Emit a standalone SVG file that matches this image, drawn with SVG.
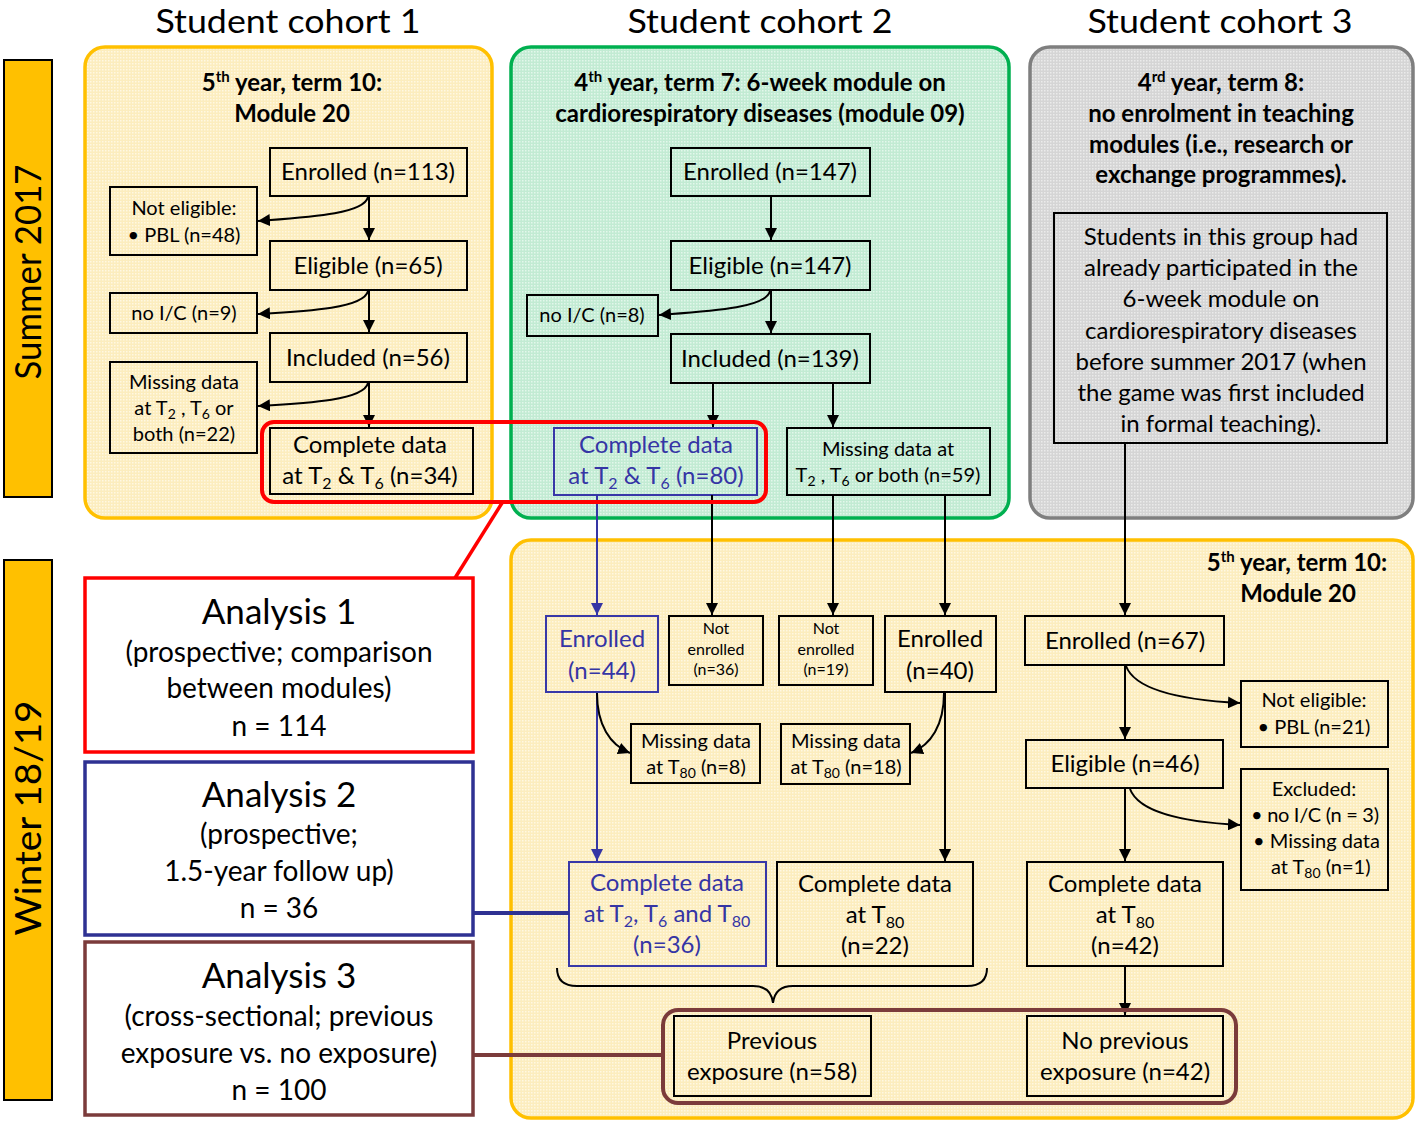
<svg xmlns="http://www.w3.org/2000/svg" width="1418" height="1125" viewBox="0 0 1418 1125">
<defs>
<pattern id="pY" width="3" height="3" patternUnits="userSpaceOnUse"><rect width="3" height="3" fill="#FCEDBE"/><rect width="1.5" height="1.5" fill="#FFF8E2"/></pattern>
<pattern id="pG" width="3" height="3" patternUnits="userSpaceOnUse"><rect width="3" height="3" fill="#C2EBD3"/><rect width="1.5" height="1.5" fill="#E3F7EB"/></pattern>
<pattern id="pK" width="3" height="3" patternUnits="userSpaceOnUse"><rect width="3" height="3" fill="#D5D5D5"/><rect width="1.5" height="1.5" fill="#EBEBEB"/></pattern>
<marker id="ah" viewBox="0 0 10 10" refX="10" refY="5" markerWidth="12" markerHeight="12" markerUnits="userSpaceOnUse" orient="auto"><path d="M0,0 L10,5 L0,10 z" fill="#000"/></marker>
<marker id="ahb" viewBox="0 0 10 10" refX="10" refY="5" markerWidth="12" markerHeight="12" markerUnits="userSpaceOnUse" orient="auto"><path d="M0,0 L10,5 L0,10 z" fill="#3535A5"/></marker>
</defs>
<style>
text{font-family:Lato,"Open Sans","Liberation Sans",sans-serif;fill:#000;text-anchor:middle}
.hd{font-size:32px}
.tt{font-size:24px;font-weight:bold}
.m{font-size:24px}
.s{font-size:20px}
.xs{font-size:16px}
.md{font-size:20px}
.an{font-size:35px}
.as{font-size:28px}
.side{font-size:36px}
.bl{fill:#3535A5}
.bx{fill:none;stroke:#000;stroke-width:2}
.bbx{fill:none;stroke:#3838A8;stroke-width:2}
.ln{fill:none;stroke:#000;stroke-width:2}
.lb{fill:none;stroke:#3535A5;stroke-width:2}
</style>

<g id="headers">
<text class="hd" x="288" y="33" textLength="265" lengthAdjust="spacingAndGlyphs">Student cohort 1</text>
<text class="hd" x="760" y="33" textLength="265" lengthAdjust="spacingAndGlyphs">Student cohort 2</text>
<text class="hd" x="1220" y="33" textLength="265" lengthAdjust="spacingAndGlyphs">Student cohort 3</text>
</g>

<g id="bar-summer">
<rect x="4" y="60" width="48" height="437" fill="#FFC000" stroke="#000" stroke-width="2"/>
<text class="side" transform="translate(41,272) rotate(-90)" textLength="215" lengthAdjust="spacingAndGlyphs">Summer 2017</text>
</g>
<g id="bar-winter">
<rect x="4" y="560" width="48" height="540" fill="#FFC000" stroke="#000" stroke-width="2"/>
<text class="side" transform="translate(41,818) rotate(-90)" textLength="235" lengthAdjust="spacingAndGlyphs">Winter 18/19</text>
</g>

<g id="cohort1-panel">
<rect x="85" y="47" width="407" height="471" rx="20" fill="url(#pY)" stroke="#FFC000" stroke-width="3.5"/>
<text class="tt" x="292" y="91">5<tspan font-size="15" dy="-9">th</tspan><tspan dy="9"> year, term 10:</tspan></text>
<text class="tt" x="292" y="122">Module 20</text>
</g>
<g id="cohort2-panel">
<rect x="511" y="47" width="498" height="471" rx="20" fill="url(#pG)" stroke="#00B050" stroke-width="3.5"/>
<text class="tt" x="760" y="91">4<tspan font-size="15" dy="-9">th</tspan><tspan dy="9"> year, term 7: 6-week module on</tspan></text>
<text class="tt" x="760" y="122">cardiorespiratory diseases (module 09)</text>
</g>
<g id="cohort3-panel">
<rect x="1030" y="47" width="383" height="471" rx="20" fill="url(#pK)" stroke="#7F7F7F" stroke-width="3.5"/>
<text class="tt" x="1221" y="91">4<tspan font-size="15" dy="-9">rd</tspan><tspan dy="9"> year, term 8:</tspan></text>
<text class="tt" x="1221" y="122">no enrolment in teaching</text>
<text class="tt" x="1221" y="153">modules (i.e., research or</text>
<text class="tt" x="1221" y="183">exchange programmes).</text>
</g>
<g id="winter-panel">
<rect x="511" y="540" width="902" height="578" rx="20" fill="url(#pY)" stroke="#FFC000" stroke-width="3.5"/>
<text class="tt" x="1297" y="571">5<tspan font-size="15" dy="-9">th</tspan><tspan dy="9"> year, term 10:</tspan></text>
<text class="tt" x="1298" y="602">Module 20</text>
</g>

<g id="c1-enrolled"><rect class="bx" x="270" y="148" width="197" height="48"/><text class="m" x="368" y="180">Enrolled (n=113)</text></g>
<g id="c1-noteligible"><rect class="bx" x="110" y="187" width="147" height="68"/><text class="s" x="184" y="215">Not eligible:</text><text class="s" x="184" y="242">• PBL (n=48)</text></g>
<g id="c1-eligible"><rect class="bx" x="270" y="241" width="197" height="49"/><text class="m" x="368" y="274">Eligible (n=65)</text></g>
<g id="c1-noic"><rect class="bx" x="110" y="293" width="147" height="40"/><text class="s" x="184" y="320">no I/C (n=9)</text></g>
<g id="c1-included"><rect class="bx" x="270" y="333" width="197" height="49"/><text class="m" x="368" y="366">Included (n=56)</text></g>
<g id="c1-missing"><rect class="bx" x="110" y="362" width="147" height="91"/><text class="s" x="184" y="389">Missing data</text><text class="s" x="184" y="415">at T<tspan font-size="14" dy="4">2</tspan><tspan dy="-4"> , T</tspan><tspan font-size="14" dy="4">6</tspan><tspan dy="-4"> or</tspan></text><text class="s" x="184" y="441">both (n=22)</text></g>
<g id="c1-complete"><rect class="bx" x="270" y="428" width="203" height="66"/><text class="m" x="370" y="453">Complete data</text><text class="m" x="370" y="484">at T<tspan font-size="16" dy="5">2</tspan><tspan dy="-5"> &amp; T</tspan><tspan font-size="16" dy="5">6</tspan><tspan dy="-5"> (n=34)</tspan></text></g>

<g id="c2-enrolled"><rect class="bx" x="671" y="148" width="199" height="48"/><text class="m" x="770" y="180">Enrolled (n=147)</text></g>
<g id="c2-eligible"><rect class="bx" x="671" y="241" width="199" height="49"/><text class="m" x="770" y="274">Eligible (n=147)</text></g>
<g id="c2-noic"><rect class="bx" x="527" y="295" width="131" height="41"/><text class="s" x="592" y="322">no I/C (n=8)</text></g>
<g id="c2-included"><rect class="bx" x="671" y="334" width="199" height="49"/><text class="m" x="770" y="367">Included (n=139)</text></g>
<g id="c2-complete"><rect class="bbx" x="554" y="428" width="203" height="67"/><text class="m bl" x="656" y="453">Complete data</text><text class="m bl" x="656" y="484">at T<tspan font-size="16" dy="5">2</tspan><tspan dy="-5"> &amp; T</tspan><tspan font-size="16" dy="5">6</tspan><tspan dy="-5"> (n=80)</tspan></text></g>
<g id="c2-missing"><rect class="bx" x="787" y="428" width="203" height="67"/><text class="md" x="888" y="456">Missing data at</text><text class="md" x="888" y="482">T<tspan font-size="14" dy="4">2</tspan><tspan dy="-4"> , T</tspan><tspan font-size="14" dy="4">6</tspan><tspan dy="-4"> or both (n=59)</tspan></text></g>

<g id="c3-note"><rect class="bx" x="1054" y="213" width="333" height="230"/>
<text class="m" x="1221" y="245">Students in this group had</text>
<text class="m" x="1221" y="276">already participated in the</text>
<text class="m" x="1221" y="307">6-week module on</text>
<text class="m" x="1221" y="339">cardiorespiratory diseases</text>
<text class="m" x="1221" y="370">before summer 2017 (when</text>
<text class="m" x="1221" y="401">the game was first included</text>
<text class="m" x="1221" y="432">in formal teaching).</text>
</g>

<g id="w-enrolled44"><rect class="bbx" x="546" y="616" width="112" height="76"/><text class="m bl" x="602" y="647">Enrolled</text><text class="m bl" x="602" y="679">(n=44)</text></g>
<g id="w-notenrolled36"><rect class="bx" x="669" y="616" width="94" height="69"/><text class="xs" x="716" y="634">Not</text><text class="xs" x="716" y="655">enrolled</text><text class="xs" x="716" y="675">(n=36)</text></g>
<g id="w-notenrolled19"><rect class="bx" x="779" y="616" width="94" height="69"/><text class="xs" x="826" y="634">Not</text><text class="xs" x="826" y="655">enrolled</text><text class="xs" x="826" y="675">(n=19)</text></g>
<g id="w-enrolled40"><rect class="bx" x="885" y="616" width="111" height="76"/><text class="m" x="940" y="647">Enrolled</text><text class="m" x="940" y="679">(n=40)</text></g>
<g id="w-missing8"><rect class="bx" x="631" y="724" width="129" height="59"/><text class="md" x="696" y="748">Missing data</text><text class="md" x="696" y="774">at T<tspan font-size="14" dy="4">80</tspan><tspan dy="-4"> (n=8)</tspan></text></g>
<g id="w-missing18"><rect class="bx" x="781" y="724" width="129" height="60"/><text class="md" x="846" y="748">Missing data</text><text class="md" x="846" y="774">at T<tspan font-size="14" dy="4">80</tspan><tspan dy="-4"> (n=18)</tspan></text></g>
<g id="w-complete36"><rect class="bbx" x="569" y="862" width="197" height="104"/><text class="m bl" x="667" y="891">Complete data</text><text class="m bl" x="667" y="922">at T<tspan font-size="16" dy="5">2</tspan><tspan dy="-5">, T</tspan><tspan font-size="16" dy="5">6</tspan><tspan dy="-5"> and T</tspan><tspan font-size="16" dy="5">80</tspan></text><text class="m bl" x="667" y="953">(n=36)</text></g>
<g id="w-complete22"><rect class="bx" x="777" y="862" width="196" height="104"/><text class="m" x="875" y="892">Complete data</text><text class="m" x="875" y="923">at T<tspan font-size="16" dy="5">80</tspan></text><text class="m" x="875" y="954">(n=22)</text></g>
<g id="w-previous"><rect class="bx" x="674" y="1016" width="197" height="80"/><text class="m" x="772" y="1049">Previous</text><text class="m" x="772" y="1080">exposure (n=58)</text></g>
<g id="w-enrolled67"><rect class="bx" x="1025" y="616" width="199" height="49"/><text class="m" x="1125" y="649">Enrolled (n=67)</text></g>
<g id="w-noteligible21"><rect class="bx" x="1241" y="681" width="147" height="66"/><text class="s" x="1314" y="707">Not eligible:</text><text class="s" x="1314" y="734">• PBL (n=21)</text></g>
<g id="w-eligible46"><rect class="bx" x="1026" y="740" width="197" height="48"/><text class="m" x="1125" y="772">Eligible (n=46)</text></g>
<g id="w-excluded"><rect class="bx" x="1241" y="769" width="147" height="121"/><text class="s" x="1314" y="796">Excluded:</text><text class="s" x="1251" y="822" style="text-anchor:start" textLength="128">• no I/C (n = 3)</text><text class="s" x="1253" y="848" style="text-anchor:start">• Missing data</text><text class="s" x="1271" y="874" style="text-anchor:start">at T<tspan font-size="14" dy="4">80</tspan><tspan dy="-4"> (n=1)</tspan></text></g>
<g id="w-complete42"><rect class="bx" x="1027" y="862" width="196" height="104"/><text class="m" x="1125" y="892">Complete data</text><text class="m" x="1125" y="923">at T<tspan font-size="16" dy="5">80</tspan></text><text class="m" x="1125" y="954">(n=42)</text></g>
<g id="w-noprevious"><rect class="bx" x="1027" y="1016" width="196" height="80"/><text class="m" x="1125" y="1049">No previous</text><text class="m" x="1125" y="1080">exposure (n=42)</text></g>

<g id="analysis1"><rect x="85" y="578" width="388" height="174" fill="#fff" stroke="#FF0000" stroke-width="3.5"/><text class="an" x="279" y="624">Analysis 1</text><text class="as" x="279" y="662">(prospective; comparison</text><text class="as" x="279" y="698">between modules)</text><text class="as" x="279" y="736">n = 114</text></g>
<g id="analysis2"><rect x="85" y="762" width="388" height="173" fill="#fff" stroke="#2E3192" stroke-width="3.5"/><text class="an" x="279" y="807">Analysis 2</text><text class="as" x="279" y="844">(prospective;</text><text class="as" x="279" y="881">1.5-year follow up)</text><text class="as" x="279" y="918">n = 36</text></g>
<g id="analysis3"><rect x="85" y="942" width="388" height="173" fill="#fff" stroke="#7B3B3B" stroke-width="3.5"/><text class="an" x="279" y="988">Analysis 3</text><text class="as" x="279" y="1026">(cross-sectional; previous</text><text class="as" x="279" y="1063">exposure vs. no exposure)</text><text class="as" x="279" y="1100">n = 100</text></g>

<g id="connectors">
<path class="ln" d="M369,196 V240" marker-end="url(#ah)"/>
<path class="ln" d="M368,197 C364,214 310,217 258,221" marker-end="url(#ah)"/>
<path class="ln" d="M369,290 V332" marker-end="url(#ah)"/>
<path class="ln" d="M368,291 C364,308 310,311 258,314" marker-end="url(#ah)"/>
<path class="ln" d="M369,382 V427" marker-end="url(#ah)"/>
<path class="ln" d="M368,383 C364,400 310,403 258,406" marker-end="url(#ah)"/>

<path class="ln" d="M771,196 V240" marker-end="url(#ah)"/>
<path class="ln" d="M771,290 V333" marker-end="url(#ah)"/>
<path class="ln" d="M770,291 C766,308 712,311 659,315" marker-end="url(#ah)"/>
<path class="ln" d="M713,383 V427" marker-end="url(#ah)"/>
<path class="ln" d="M833,383 V427" marker-end="url(#ah)"/>

<path class="lb" d="M597,495 V615" marker-end="url(#ahb)"/>
<path class="ln" d="M712,495 V615" marker-end="url(#ah)"/>
<path class="ln" d="M833,495 V615" marker-end="url(#ah)"/>
<path class="ln" d="M945,495 V615" marker-end="url(#ah)"/>
<path class="lb" d="M597,692 V861" marker-end="url(#ahb)"/>
<path class="ln" d="M597,693 C597,725 610,745 630,753" marker-end="url(#ah)"/>
<path class="ln" d="M945,692 V861" marker-end="url(#ah)"/>
<path class="ln" d="M944,693 C944,725 931,745 911,753" marker-end="url(#ah)"/>

<path class="ln" d="M1125,443 V615" marker-end="url(#ah)"/>
<path class="ln" d="M1125,665 V739" marker-end="url(#ah)"/>
<path class="ln" d="M1126,666 C1135,690 1180,700 1240,703" marker-end="url(#ah)"/>
<path class="ln" d="M1125,788 V861" marker-end="url(#ah)"/>
<path class="ln" d="M1130,789 C1139,813 1184,822 1240,825" marker-end="url(#ah)"/>
<path class="ln" d="M1125,966 V1015" marker-end="url(#ah)"/>

<path class="ln" d="M557,968 Q557,986 577,986 L753,986 Q771,986 773,1003 Q775,986 793,986 L967,986 Q987,986 987,968"/>

<rect x="262" y="422" width="504" height="80" rx="12" fill="none" stroke="#FF0000" stroke-width="4"/>
<path d="M502,503 L455,578" fill="none" stroke="#FF0000" stroke-width="3.5"/>
<path d="M473,913 H569" fill="none" stroke="#2E3192" stroke-width="4"/>
<rect x="663" y="1010" width="573" height="93" rx="15" fill="none" stroke="#7B3B3B" stroke-width="4"/>
<path d="M473,1055 H663" fill="none" stroke="#7B3B3B" stroke-width="4"/>
</g>
</svg>
